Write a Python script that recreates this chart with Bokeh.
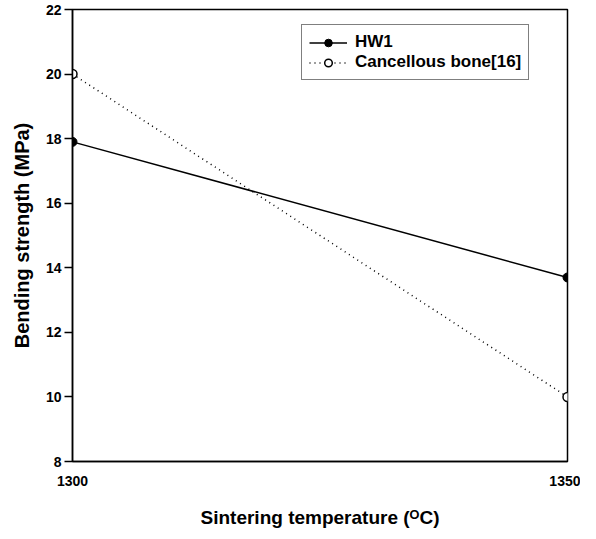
from bokeh.plotting import figure
from bokeh.models import Range1d, FixedTicker, Legend
from bokeh.embed import file_html
from bokeh.resources import INLINE

temps = [1300, 1350]
hw1 = [17.9, 13.7]
bone = [20.0, 10.0]
y_ticks = [8, 10, 12, 14, 16, 18, 20, 22]
x_ticks = [1300, 1350]

FONT = "Liberation Sans"

p = figure(width=580, height=530, output_backend="svg", toolbar_location=None,
           x_range=Range1d(1300, 1350), y_range=Range1d(8, 22),
           min_border_left=72, min_border_right=13, min_border_top=9, min_border_bottom=60)

p.background_fill_color = "white"
p.border_fill_color = "white"
p.outline_line_color = "black"
p.outline_line_width = 1.5
p.grid.visible = False

l1 = p.line(temps, hw1, line_color="black", line_width=1.5)
s1 = p.scatter(temps, hw1, size=9, fill_color="black", line_color="black")
l2 = p.line(temps, bone, line_color="black", line_width=1.5, line_dash="1 4")
s2 = p.scatter(temps, bone, size=9, fill_color="white", line_color="black", line_width=1.5)

p.xaxis.ticker = FixedTicker(ticks=x_ticks)
p.yaxis.ticker = FixedTicker(ticks=y_ticks)
for ax in (p.xaxis, p.yaxis):
    ax.axis_line_color = "black"
    ax.axis_line_width = 1.5
    ax.major_tick_line_color = "black"
    ax.major_tick_line_width = 1.5
    ax.minor_tick_line_color = None
    ax.major_tick_in = 0
    ax.major_label_text_font = FONT
    ax.major_label_text_font_style = "bold"
    ax.major_label_text_font_size = "14px"
    ax.major_label_text_color = "black"
    ax.axis_label_text_font = FONT
    ax.axis_label_text_font_style = "bold"
    ax.axis_label_text_color = "black"

p.xaxis.axis_label_text_font_size = "19px"
p.yaxis.axis_label_text_font_size = "20px"
p.yaxis.major_tick_out = 8
p.xaxis.major_tick_out = 0
p.xaxis.major_label_standoff = 14
p.xaxis.axis_label_standoff = 18
p.yaxis.axis_label_standoff = 10
p.yaxis.major_label_standoff = 3
p.xaxis.axis_label = "Sintering temperature (ᴼC)"
p.yaxis.axis_label = "Bending strength (MPa)"

legend = Legend(items=[("HW1", [l1, s1]), ("Cancellous bone[16]", [l2, s2])],
                location=(229, 381))
legend.border_line_color = "black"
legend.border_line_width = 1.5
legend.background_fill_alpha = 1
legend.label_text_font = FONT
legend.label_text_font_style = "bold"
legend.label_text_font_size = "17px"
legend.label_text_color = "black"
legend.label_height = 19
legend.glyph_height = 19
legend.glyph_width = 38
legend.spacing = 0
legend.padding = 7
legend.margin = 0
legend.label_standoff = 8
p.add_layout(legend, "center")

open("out.html", "w").write(file_html(p, INLINE))
